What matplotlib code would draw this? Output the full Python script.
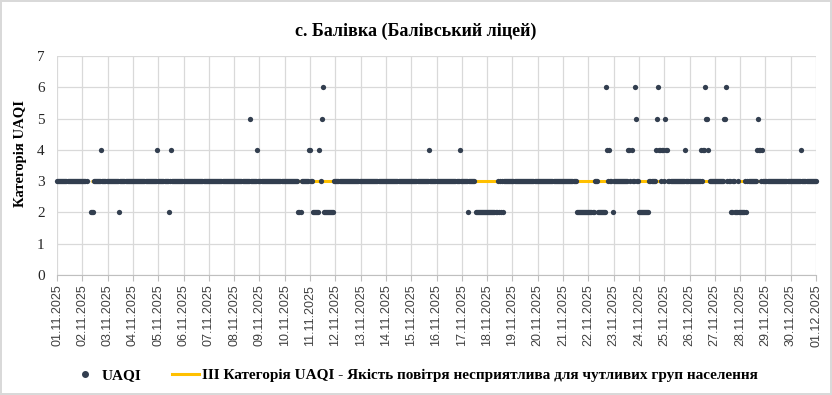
import numpy as np
import pandas as pd
import matplotlib
matplotlib.use("Agg")
import matplotlib.pyplot as plt
from matplotlib.lines import Line2D

# hourly UAQI category, 01.11.2025 00:00 .. 01.12.2025 00:00 (721 readings)
# most hours are category 3, the lists below hold the hours that differ
n_hours = 721
hours_missing = [29, 30, 31]
hours_cat2 = [32, 33, 34, 59, 106, 229, 230, 231,
              *range(243, 249), *range(253, 263), 390,
              *range(397, 418), 419, 421, 423,
              *range(493, 510), *range(513, 521), 527,
              *range(552, 562),
              639, 640, 643, 644, 645, *range(647, 653), 654]
hours_cat4 = [42, 95, 108, 190, 239, 240, 249, 353, 382, 522, 524,
              542, 543, 545, 568, 571, 572, 574, 575, 578, 579, 596,
              611, 613, 614, 618, 664, 666, 667, 669, 706]
hours_cat5 = [183, 251, 549, 569, 577, 616, 617, 633, 634, 665]
hours_cat6 = [252, 521, 548, 570, 615, 635]
base_category = 3
threshold_level = 3  # III category line

date_labels = pd.date_range("2025-11-01", "2025-12-01", freq="D").strftime("%d.%m.%Y").tolist()

title = "с. Балівка (Балівський ліцей)"
y_label = "Категорія UAQI"
series_name = "UAQI"
threshold_name = "III Категорія UAQI - Якість повітря несприятлива для чутливих груп населення"

# build hourly series
uaqi = np.full(n_hours, float(base_category))
uaqi[hours_cat2] = 2
uaqi[hours_cat4] = 4
uaqi[hours_cat5] = 5
uaqi[hours_cat6] = 6
uaqi[hours_missing] = np.nan
x_days = np.arange(n_hours) / 24.0
threshold = np.where(np.isnan(uaqi), np.nan, threshold_level)

DOT = "#323e4f"
GOLD = "#ffc000"
GRID = "#d9d9d9"

fig = plt.figure(figsize=(8.32, 3.95), dpi=100)
fig.patch.set_edgecolor(GRID)
fig.patch.set_linewidth(1.5)
ax = fig.add_axes([57 / 832, 120 / 395, 759 / 832, 219 / 395])

ax.plot(x_days, threshold, color=GOLD, lw=2.2, zorder=2, solid_capstyle="butt")
ax.plot(x_days, uaqi, "o", ms=3.8, color=DOT, mew=0, zorder=3, clip_on=False)

ax.set_xlim(0, 30)
ax.set_ylim(0, 7)
ax.set_xticks(range(len(date_labels)))
ax.set_xticklabels(date_labels, rotation=90, fontfamily="Liberation Sans",
                   fontsize=9, color="#404040")
ax.set_yticks(range(8))
ax.set_yticklabels([str(v) for v in range(8)], fontfamily="Liberation Serif",
                   fontsize=11, color="#262626")
ax.tick_params(axis="y", length=0, pad=9)
ax.tick_params(axis="x", length=4, width=0.8, color="#bfbfbf", pad=3)
ax.grid(True, color=GRID, lw=0.9, zorder=0)
ax.set_axisbelow(True)
for side in ["top", "right", "left"]:
    ax.spines[side].set_visible(False)
ax.spines["bottom"].set_color("#bfbfbf")

fig.text(0.5, 1 - 31 / 395, title, ha="center", va="center",
         fontfamily="Liberation Serif", fontweight="bold", fontsize=13)
fig.text(20 / 832, 1 - 153 / 395, y_label, ha="center", va="center", rotation=90,
         fontfamily="Liberation Serif", fontweight="bold", fontsize=10.5)

handles = [Line2D([], [], ls="none", marker="o", ms=4, color=DOT),
           Line2D([], [], color=GOLD, lw=2.2)]
fig.legend(handles, [series_name, threshold_name], loc="center left",
           bbox_to_anchor=(71 / 832, 20 / 395), ncol=2, frameon=False,
           borderpad=0, borderaxespad=0,
           handlelength=1.8, handletextpad=0.2, columnspacing=2.0,
           prop={"family": "Liberation Serif", "weight": "bold", "size": 11})

fig.savefig("out.png", dpi=100, edgecolor=fig.get_edgecolor())
